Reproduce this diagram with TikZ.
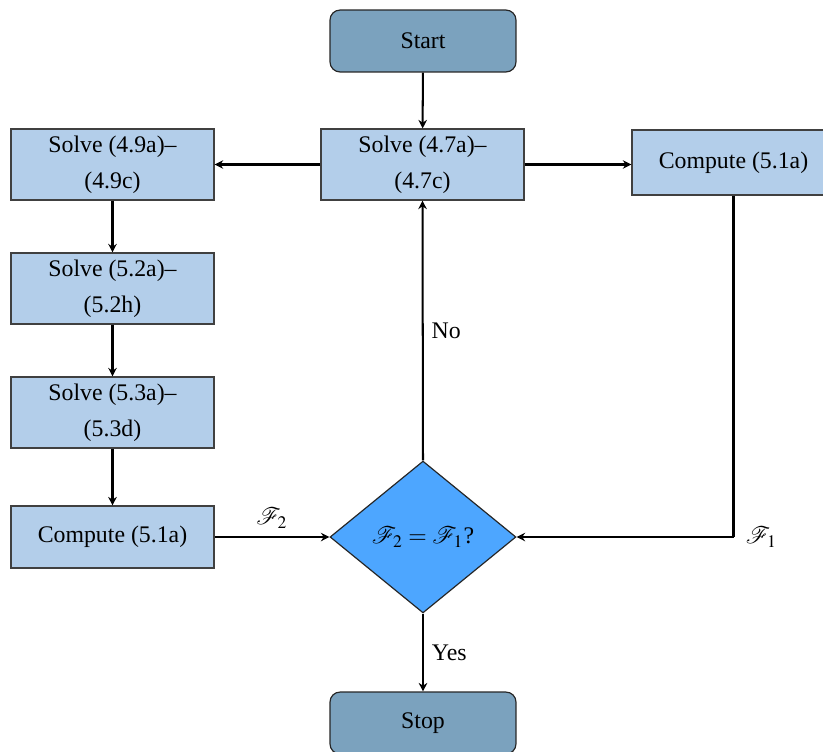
\documentclass[tikz,border=0pt]{standalone}
\usepackage{mathptmx}
\usepackage[no-math]{fontspec}
\setmainfont{Liberation Serif}
\usepackage{mathrsfs}
\usetikzlibrary{shapes.geometric, arrows.meta}

\definecolor{boxblue}{RGB}{179,206,234}
\definecolor{termblue}{RGB}{123,162,190}
\definecolor{decblue}{RGB}{77,166,255}

\begin{document}
\begin{tikzpicture}[x=0.42pt, y=-0.42pt,
  font=\fontsize{10}{15}\selectfont,
  box/.style={draw=black!75, line width=0.5pt, fill=boxblue, minimum width=85.3pt,
    minimum height=29.8pt, inner sep=0pt, align=center},
  term/.style={draw=black!85, line width=0.5pt, fill=termblue, rounded corners=4.2pt,
    minimum width=78.1pt, minimum height=26pt, inner sep=0pt},
  decision/.style={diamond, draw=black!85, line width=0.5pt, fill=decblue, inner sep=0pt,
    minimum width=78.1pt, minimum height=63.8pt},
  arr/.style={-{Stealth[length=3.6pt, width=3.6pt, inset=1.2pt]}, line width=0.85pt},
  link/.style={line width=0.85pt}]

\useasboundingbox (0,0) rectangle (823,752);

% process nodes
\node[term] (start) at (423,41) {Start};
\node[box] (s47) at (422.5,164.5) {Solve (4.7a)--\\(4.7c)};
\node[box] (s49) at (112.5,164.5) {Solve (4.9a)--\\(4.9c)};
\node[box, minimum height=27.3pt] (c51r) at (733.5,162.5) {Compute (5.1a)};
\node[box] (s52) at (112.5,288.5) {Solve (5.2a)--\\(5.2h)};
\node[box] (s53) at (112.5,412.5) {Solve (5.3a)--\\(5.3d)};
\node[box, minimum height=26pt] (c51l) at (112.5,537) {Compute (5.1a)};
\node[decision] (dec) at (423,537) {$\mathscr{F}_2=\mathscr{F}_1$?};
\node[term] (stop) at (423,723) {Stop};

% connectors
\draw[arr] (start) -- (s47);
\draw[arr] (s47.west) -- (s49.east);
\draw[arr] (s47.east) -- (s47.east -| c51r.west);
\draw[arr] (s49) -- (s52);
\draw[arr] (s52) -- (s53);
\draw[arr] (s53) -- (c51l);
\draw[arr] (c51l.east) -- node[above] {$\mathscr{F}_2$} (dec.west);
\coordinate (corner) at (c51r.south |- dec.east);
\draw[link] (c51r.south) -- (corner);
\draw[arr] (corner) -- (dec.east);
\node[right, inner sep=5pt] (f1) at (corner) {$\mathscr{F}_1$};
\draw[arr] (dec.north) -- node[right] {No} (s47.south);
\draw[arr] (dec.south) -- node[right] {Yes} (stop.north);
\end{tikzpicture}
\end{document}
